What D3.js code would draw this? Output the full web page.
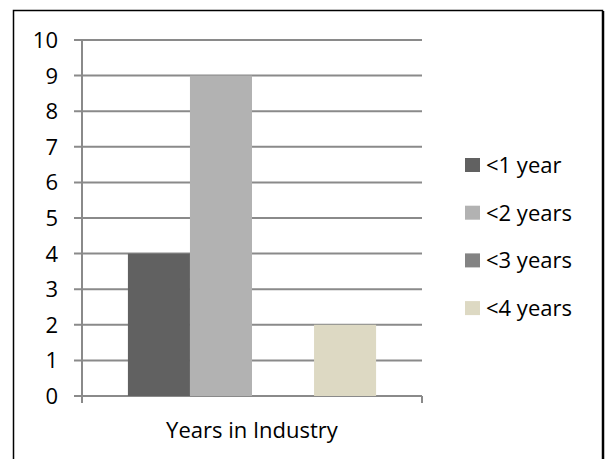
<!DOCTYPE html>
<html>
<head>
<meta charset="utf-8">
<script src="https://cdn.jsdelivr.net/npm/d3@7"></script>
<style>
  body { margin: 0; background: #fff; }
  svg { display: block; }
</style>
</head>
<body>
<div id="chart"></div>
<script>
var category = "Years in Industry";
var seriesNames = ["<1 year", "<2 years", "<3 years", "<4 years"];
var seriesValues = [4, 9, 0, 2];
var seriesColors = ["#616161", "#b2b2b2", "#838383", "#ddd9c3"];
var yTicks = [0, 1, 2, 3, 4, 5, 6, 7, 8, 9, 10];

var width = 605, height = 459;
var font = "'Open Sans', sans-serif";
var fontSize = 22;

var svg = d3.select("#chart").append("svg")
    .attr("width", width)
    .attr("height", height);

// outer frame
svg.append("rect")
    .attr("x", 13.5).attr("y", 10.5)
    .attr("width", 589).attr("height", 460)
    .attr("fill", "#fff")
    .attr("stroke", "#000")
    .attr("stroke-width", 1.5);
svg.append("line")
    .attr("x1", 603.5).attr("x2", 603.5)
    .attr("y1", 11).attr("y2", height)
    .attr("stroke", "#000").attr("stroke-width", 1.5);

var plot = { left: 82, right: 422, top: 40, bottom: 396 };

var y = d3.scaleLinear().domain([0, 10]).range([plot.bottom, plot.top]);
var x0 = d3.scaleBand().domain([category]).range([plot.left, plot.right])
    .paddingInner(0).paddingOuter(0.185);
var x1 = d3.scaleBand().domain(seriesNames).range([0, x0.bandwidth()]);

// gridlines
svg.append("g").selectAll("line")
    .data(yTicks)
    .enter().append("line")
    .attr("x1", plot.left - 8).attr("x2", plot.right)
    .attr("y1", d => y(d)).attr("y2", d => y(d))
    .attr("stroke", "#8a8a8a")
    .attr("stroke-width", 2);

// bars
svg.append("g").selectAll("rect")
    .data(seriesNames)
    .enter().append("rect")
    .attr("x", d => x0(category) + x1(d))
    .attr("width", x1.bandwidth())
    .attr("y", (d, i) => y(seriesValues[i]))
    .attr("height", (d, i) => y(0) - y(seriesValues[i]))
    .attr("fill", (d, i) => seriesColors[i]);

// axes lines
svg.append("line")
    .attr("x1", plot.left).attr("x2", plot.left)
    .attr("y1", plot.top).attr("y2", plot.bottom + 7)
    .attr("stroke", "#8a8a8a").attr("stroke-width", 2);
svg.append("line")
    .attr("x1", plot.right).attr("x2", plot.right)
    .attr("y1", plot.bottom).attr("y2", plot.bottom + 7)
    .attr("stroke", "#8a8a8a").attr("stroke-width", 2);

// y tick labels
svg.append("g").selectAll("text")
    .data(yTicks)
    .enter().append("text")
    .attr("x", 58)
    .attr("y", d => y(d))
    .attr("dy", "0.36em")
    .attr("text-anchor", "end")
    .attr("font-family", font)
    .attr("font-size", fontSize)
    .attr("fill", "#000")
    .text(d => d);

// category label
svg.append("text")
    .attr("x", (plot.left + plot.right) / 2)
    .attr("y", 438)
    .attr("text-anchor", "middle")
    .attr("font-family", font)
    .attr("font-size", fontSize)
    .attr("fill", "#000")
    .text(category);

// legend
var legend = svg.append("g").selectAll("g")
    .data(seriesNames)
    .enter().append("g")
    .attr("transform", (d, i) => "translate(465," + (165 + i * 47.7) + ")");

legend.append("rect")
    .attr("x", 0).attr("y", -7)
    .attr("width", 15).attr("height", 14)
    .attr("fill", (d, i) => seriesColors[i]);

legend.append("text")
    .attr("x", 21)
    .attr("y", 0)
    .attr("dy", "0.36em")
    .attr("font-family", font)
    .attr("font-size", fontSize)
    .attr("fill", "#000")
    .text(d => d);
</script>
</body>
</html>
